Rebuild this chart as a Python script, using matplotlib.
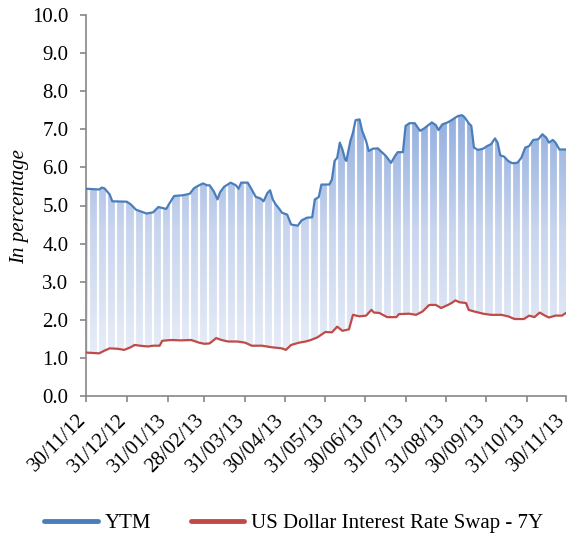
import numpy as np
import pandas as pd
import matplotlib
matplotlib.use("Agg")
import matplotlib.pyplot as plt
import matplotlib.dates as mdates
import matplotlib.transforms as mtransforms
from matplotlib.colors import LinearSegmentedColormap

plt.rcParams['font.family'] = ['Liberation Serif', 'DejaVu Serif']

ytm_dates = ["2012-11-30", "2012-12-10", "2012-12-12", "2012-12-14", "2012-12-18", "2012-12-20",
             "2012-12-31", "2013-01-03", "2013-01-07", "2013-01-11", "2013-01-15", "2013-01-20",
             "2013-01-24", "2013-01-30", "2013-02-01", "2013-02-05", "2013-02-12", "2013-02-17",
             "2013-02-20", "2013-02-24", "2013-02-27", "2013-03-02", "2013-03-04", "2013-03-07",
             "2013-03-10", "2013-03-12", "2013-03-15", "2013-03-20", "2013-03-24", "2013-03-26",
             "2013-03-28", "2013-04-02", "2013-04-05", "2013-04-08", "2013-04-12", "2013-04-14",
             "2013-04-17", "2013-04-19", "2013-04-21", "2013-04-23", "2013-04-26", "2013-04-28",
             "2013-05-02", "2013-05-05", "2013-05-10", "2013-05-13", "2013-05-17", "2013-05-21",
             "2013-05-23", "2013-05-26", "2013-05-28", "2013-06-03", "2013-06-05", "2013-06-07",
             "2013-06-09", "2013-06-11", "2013-06-13", "2013-06-15", "2013-06-16", "2013-06-19",
             "2013-06-21", "2013-06-23", "2013-06-26", "2013-06-28", "2013-07-01", "2013-07-03",
             "2013-07-06", "2013-07-10", "2013-07-12", "2013-07-16", "2013-07-20", "2013-07-23",
             "2013-07-25", "2013-07-29", "2013-07-31", "2013-08-03", "2013-08-07", "2013-08-11",
             "2013-08-14", "2013-08-20", "2013-08-23", "2013-08-25", "2013-08-28", "2013-09-01",
             "2013-09-04", "2013-09-07", "2013-09-09", "2013-09-12", "2013-09-14", "2013-09-17",
             "2013-09-19", "2013-09-21", "2013-09-24", "2013-09-28", "2013-10-01", "2013-10-04",
             "2013-10-07", "2013-10-09", "2013-10-11", "2013-10-14", "2013-10-17", "2013-10-20",
             "2013-10-24", "2013-10-27", "2013-10-30", "2013-11-02", "2013-11-05", "2013-11-09",
             "2013-11-12", "2013-11-15", "2013-11-17", "2013-11-20", "2013-11-22", "2013-11-25",
             "2013-11-30"]
ytm_values = [5.44, 5.42, 5.47, 5.45, 5.29, 5.11,
              5.10, 5.03, 4.89, 4.84, 4.79, 4.82,
              4.96, 4.91, 5.03, 5.25, 5.27, 5.31,
              5.45, 5.53, 5.58, 5.53, 5.53, 5.38,
              5.16, 5.35, 5.49, 5.60, 5.53, 5.44,
              5.60, 5.60, 5.42, 5.23, 5.18, 5.11,
              5.33, 5.40, 5.16, 5.04, 4.91, 4.81,
              4.76, 4.50, 4.47, 4.61, 4.68, 4.69,
              5.16, 5.22, 5.55, 5.55, 5.68, 6.17,
              6.25, 6.65, 6.47, 6.21, 6.17, 6.69,
              6.91, 7.24, 7.26, 6.96, 6.69, 6.43,
              6.49, 6.50, 6.43, 6.30, 6.12, 6.30,
              6.40, 6.40, 7.09, 7.16, 7.16, 6.96,
              7.02, 7.18, 7.11, 6.98, 7.13, 7.18,
              7.24, 7.31, 7.35, 7.37, 7.31, 7.16,
              7.09, 6.52, 6.46, 6.49, 6.56, 6.61,
              6.76, 6.65, 6.32, 6.28, 6.17, 6.11,
              6.12, 6.25, 6.52, 6.56, 6.72, 6.74,
              6.87, 6.78, 6.65, 6.72, 6.65, 6.47,
              6.47]

swap_dates = ["2012-11-30", "2012-12-10", "2012-12-14", "2012-12-18", "2012-12-24", "2012-12-29",
              "2013-01-03", "2013-01-06", "2013-01-10", "2013-01-16", "2013-01-20", "2013-01-25",
              "2013-01-27", "2013-02-03", "2013-02-10", "2013-02-18", "2013-02-24", "2013-02-28",
              "2013-03-04", "2013-03-09", "2013-03-13", "2013-03-18", "2013-03-25", "2013-03-31",
              "2013-04-05", "2013-04-13", "2013-04-20", "2013-04-28", "2013-05-01", "2013-05-05",
              "2013-05-11", "2013-05-16", "2013-05-20", "2013-05-25", "2013-05-31", "2013-06-05",
              "2013-06-09", "2013-06-13", "2013-06-18", "2013-06-21", "2013-06-26", "2013-07-01",
              "2013-07-05", "2013-07-07", "2013-07-11", "2013-07-17", "2013-07-24", "2013-07-26",
              "2013-08-03", "2013-08-08", "2013-08-13", "2013-08-18", "2013-08-23", "2013-08-27",
              "2013-08-31", "2013-09-04", "2013-09-07", "2013-09-10", "2013-09-15", "2013-09-17",
              "2013-09-21", "2013-09-28", "2013-10-04", "2013-10-12", "2013-10-17", "2013-10-22",
              "2013-10-29", "2013-11-02", "2013-11-06", "2013-11-10", "2013-11-14", "2013-11-17",
              "2013-11-22", "2013-11-27", "2013-11-30"]
swap_values = [1.14, 1.12, 1.19, 1.25, 1.24, 1.21,
               1.28, 1.34, 1.32, 1.30, 1.32, 1.32,
               1.45, 1.47, 1.46, 1.47, 1.40, 1.37,
               1.38, 1.52, 1.47, 1.43, 1.43, 1.40,
               1.32, 1.32, 1.28, 1.25, 1.21, 1.34,
               1.40, 1.43, 1.47, 1.54, 1.68, 1.67,
               1.82, 1.71, 1.75, 2.13, 2.09, 2.11,
               2.26, 2.19, 2.18, 2.07, 2.07, 2.15,
               2.16, 2.13, 2.22, 2.39, 2.39, 2.31,
               2.37, 2.44, 2.51, 2.46, 2.44, 2.26,
               2.22, 2.16, 2.13, 2.13, 2.09, 2.02,
               2.02, 2.11, 2.07, 2.19, 2.11, 2.06,
               2.11, 2.11, 2.18]

tick_dates = ["2012-11-30", "2012-12-31", "2013-01-31", "2013-02-28", "2013-03-31", "2013-04-30",
              "2013-05-31", "2013-06-30", "2013-07-31", "2013-08-31", "2013-09-30", "2013-10-31",
              "2013-11-30"]
tick_labels = ["30/11/12", "31/12/12", "31/01/13", "28/02/13", "31/03/13", "30/04/13",
               "31/05/13", "30/06/13", "31/07/13", "31/08/13", "30/09/13", "31/10/13",
               "30/11/13"]

ytm_x = mdates.date2num(pd.to_datetime(ytm_dates))
swap_x = mdates.date2num(pd.to_datetime(swap_dates))

# common x grid so the band between the two series can be filled
grid_x = np.union1d(ytm_x, swap_x)
ytm_g = np.interp(grid_x, ytm_x, ytm_values)
swap_g = np.interp(grid_x, swap_x, swap_values)

FS = 15

fig = plt.figure(figsize=(5.71, 5.40), dpi=100)
ax = fig.add_axes([86/571, 1-396/540, (566-86)/571, (396-15)/540])

x0 = mdates.date2num(pd.Timestamp("2012-11-30"))
x1 = mdates.date2num(pd.Timestamp("2013-11-30"))
ax.set_xlim(x0, x1)
ax.set_ylim(0, 10)

poly = ax.fill_between(grid_x, swap_g, ytm_g, facecolor='none', edgecolor='none')
cmap = LinearSegmentedColormap.from_list('g', ['#e8edf8', '#c9d6ee', '#8eabde'])
grad = np.linspace(0, 1, 256).reshape(-1, 1)
im = ax.imshow(grad, extent=[x0, x1, 1.0, 7.6], origin='lower', aspect='auto',
               cmap=cmap, zorder=1)
path = poly.get_paths()[0]
im.set_clip_path(path, transform=ax.transData)

week_x = mdates.date2num(pd.date_range("2012-12-02", "2013-11-30", freq="7D"))
vl = ax.vlines(week_x, 0, 10, colors='white', linewidth=1.6, zorder=2)
vl.set_clip_path(path, transform=ax.transData)

ax.plot(swap_x, swap_values, color='#be4b48', lw=1.6, zorder=3,
        label='US Dollar Interest Rate Swap - 7Y', solid_capstyle='round')
ax.plot(ytm_x, ytm_values, color='#4a7ebb', lw=1.6, zorder=4, label='YTM',
        solid_capstyle='round')

for s in ['top', 'right']:
    ax.spines[s].set_visible(False)
for s in ['left', 'bottom']:
    ax.spines[s].set_color('#868686')
    ax.spines[s].set_linewidth(1.2)

yt = np.arange(0, 10.01, 1.0)
ax.set_yticks(yt)
ax.set_yticklabels([f"{v:.1f}" for v in yt], fontsize=FS)
ax.set_xticks(mdates.date2num(pd.to_datetime(tick_dates)))
ax.set_xticklabels(tick_labels, rotation=45, ha='right', va='center', rotation_mode='anchor',
                   fontsize=FS)
ax.tick_params(axis='both', direction='out', length=4.3, color='#868686', width=1.2)
ax.tick_params(axis='y', pad=8.4)
ax.tick_params(axis='x', pad=11)
shift = mtransforms.ScaledTranslation(-3/100, 0, fig.dpi_scale_trans)
for lbl in ax.get_xticklabels():
    lbl.set_transform(lbl.get_transform() + shift)
ax.set_ylabel('In percentage', fontsize=FS, style='italic')
ax.yaxis.set_label_coords((29-86)/480, (396-207)/381)

handles, labels = ax.get_legend_handles_labels()
leg = fig.legend([handles[1], handles[0]], [labels[1], labels[0]], loc='center',
                 bbox_to_anchor=((45+543)/2/571, 1-523/540), ncol=2, frameon=False, fontsize=FS,
                 handlelength=2.55, columnspacing=1.9, handletextpad=0.35)
for line in leg.get_lines():
    line.set_linewidth(3.5)

fig.savefig('out.png', dpi=100)
